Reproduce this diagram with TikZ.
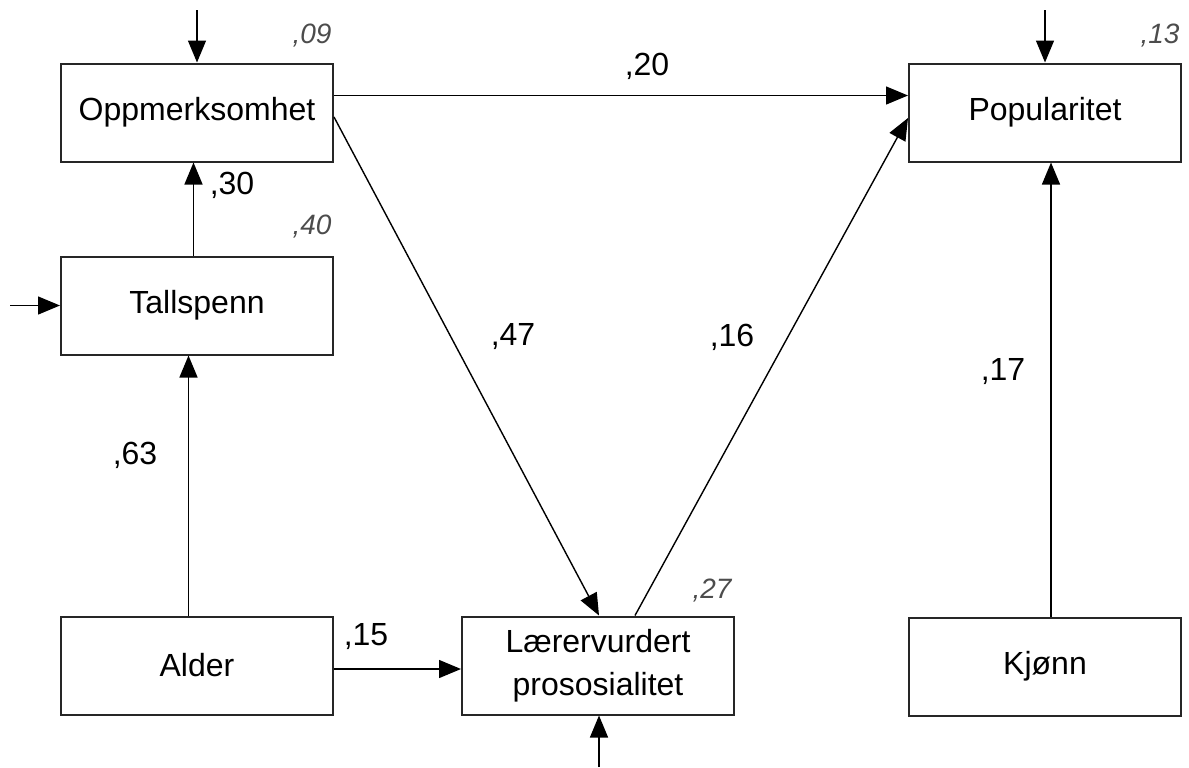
\documentclass[tikz,border=0pt]{standalone}
\usepackage{fontspec}
\setmainfont{Liberation Sans}
\usetikzlibrary{arrows.meta, positioning}

\begin{document}
\begin{tikzpicture}[x=0.5pt, y=-0.5pt, every node/.style={font=\fontsize{16}{21.5}\selectfont}]
    % Define styles
    \tikzstyle{varbox} = [rectangle, minimum width=136pt, minimum height=49pt, inner sep=0pt, align=center, draw=black!85, line width=1pt]
    \tikzstyle{arrow} = [line width=0.7pt, -{Triangle[length=11pt, width=9pt]}]
    \tikzstyle{rsq} = [font=\fontsize{14}{16}\selectfont\itshape, text=black!70]

    \useasboundingbox (0,0) rectangle (1189,767);

    % Variables
    \node (opp) [varbox] at (197,112.5) {Oppmerksomhet};
    \node (tall) [varbox, below=46.5pt of opp] {Tallspenn};
    \node (alder) [varbox, below=130pt of tall] {Alder};
    \node (laerer) [varbox, right=63.5pt of alder] {Lærervurdert\\prososialitet};
    \node (pop) [varbox, right=287pt of opp] {Popularitet};
    \node (kjonn) [varbox, below=227pt of pop] {Kjønn};

    % Error terms
    \coordinate (e_opp) at (opp.north |- 0,10);
    \coordinate (e_pop) at (pop.north |- 0,10);
    \coordinate (e_tall) at (tall.west -| 10,0);
    \coordinate (e_laerer) at ([xshift=0.5pt]laerer.south |- 0,767);

    \draw [arrow] (e_opp) -- (opp);
    \draw [arrow] (e_pop) -- (pop);
    \draw [arrow] (e_tall) -- (tall);
    \draw [arrow] (e_laerer) -- ([xshift=0.5pt]laerer.south);

    % Paths
    \draw [arrow] ([yshift=8.5pt]opp.east) -- ([yshift=8.5pt]pop.west);
    \draw [arrow] ([xshift=-1.75pt]tall.north) -- ([xshift=-1.75pt]opp.south);
    \draw [arrow] ([xshift=-4.25pt]alder.north) -- ([xshift=-4.25pt]tall.south);
    \draw [arrow] ([yshift=-1.75pt]alder.east) -- ([yshift=-1.75pt]laerer.west);
    \draw [arrow] ([xshift=3pt]kjonn.north) -- ([xshift=3pt]pop.south);
    \draw [arrow] ([yshift=-2.25pt]opp.east) -- ([xshift=0.5pt]laerer.north);
    \draw [arrow] ([xshift=18.5pt]laerer.north) -- ([yshift=-2.75pt]pop.west);

    % Coefficients
    \node (c_opp_pop) at (647,66) {,20};
    \node (c_tall_opp) at (232,185) {,30};
    \node (c_opp_laerer) at (513,337) {,47};
    \node (c_laerer_pop) at (732,337) {,16};
    \node (c_kjonn_pop) at (1003,372) {,17};
    \node (c_alder_tall) at (135,455) {,63};
    \node (c_alder_laerer) at (366,637) {,15};

    % Explained variance
    \node (r_opp) [rsq] at (312,36) {,09};
    \node (r_pop) [rsq] at (1160,36) {,13};
    \node (r_tall) [rsq] at (312,227) {,40};
    \node (r_laerer) [rsq] at (712,591) {,27};
\end{tikzpicture}
\end{document}
